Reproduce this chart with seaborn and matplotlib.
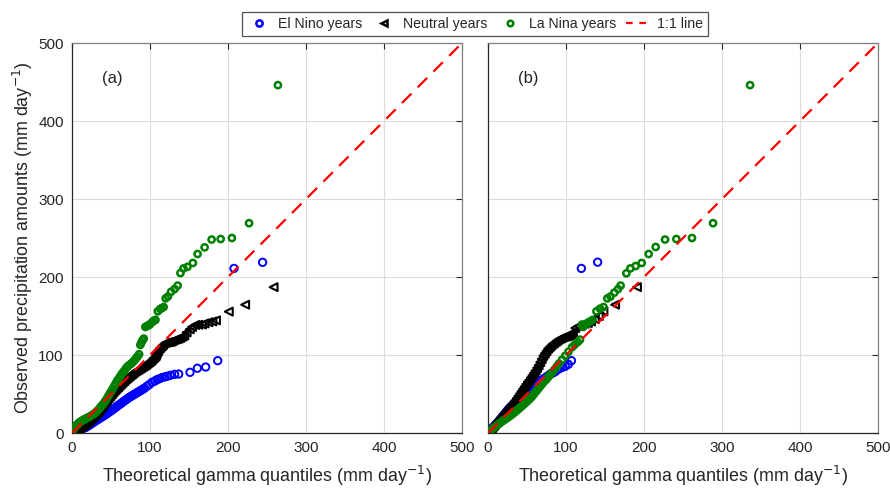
import matplotlib
matplotlib.use("Agg")
import matplotlib.pyplot as plt
from matplotlib.lines import Line2D
import seaborn as sns

# ------------------------------------------------------------------
# valori (cuantile teoretice vs observate)
# ------------------------------------------------------------------
# panou (a)
a_nino_x = [1, 3, 5, 7, 9, 11, 13, 15, 17, 19, 21, 23, 25, 27, 29, 31, 33, 35, 37, 39,
            41, 43, 45, 47, 49, 51, 53, 55, 57, 59, 61, 63, 65, 67, 69, 71, 73, 75, 77, 79,
            81, 83, 85, 87, 89, 91, 93, 96, 99, 102.6, 106, 109, 112, 115.4, 119, 121.8,
            126, 131.6, 136.8, 151.3, 160.7, 171.4, 186.8, 207.7, 244.4]
a_nino_y = [0.4, 1.2, 2, 2.8, 3.6, 4.5, 5.3, 6.2, 7, 8, 9.3, 10.6, 12, 13.3, 14.6, 16, 17.3,
            18.6, 19.8, 21, 22.3, 23.6, 25, 26.4, 27.8, 29.2, 30.7, 32, 33.6, 35.2, 36.6, 38,
            39.6, 41, 42.4, 44, 45.3, 46.6, 47.8, 49, 50.3, 51.4, 52.6, 53.8, 55, 56.3, 57.5,
            60, 62, 65, 66.5, 68.4, 69.5, 71, 72, 72.6, 74, 75.2, 75.6, 77.8, 83, 84.6, 92.7,
            211, 218.8]

a_neut_x = [1, 3, 5, 7, 9, 11, 13, 15, 17, 19, 21, 23, 25, 27, 29, 31, 33, 35, 37, 39,
            41, 43, 45, 47, 49, 51, 53, 55, 57, 59, 61, 63, 65, 67, 69, 71, 73, 75, 77, 79,
            81, 83, 85, 87, 89, 91, 93, 95, 97, 99, 101, 103, 105, 107, 108, 109, 110, 111,
            113, 115, 117, 119.7, 122, 124, 126, 128, 130, 132.5, 135, 137, 139, 141.5, 144,
            147, 151, 154, 158, 162, 166.7, 170, 175, 180, 184.6, 201, 222, 258.5]
a_neut_y = [0.6, 1.9, 3.2, 4.5, 5.8, 7.1, 8.5, 9.8, 11.1, 12.4, 14.3, 16.2, 18.2, 20.2, 22.2,
            24.2, 26.2, 28.5, 31, 33.5, 36.2, 39, 42, 44.5, 47, 49.5, 52, 54.5, 56.5, 58.5,
            60.6, 62.6, 64.6, 66.6, 68.6, 70.3, 72, 73.6, 75.2, 76.8, 78.6, 79.8, 81, 82.3,
            83.5, 84.8, 86, 87.5, 89, 90.5, 92, 94, 96, 98, 100, 102.6, 104.5, 106.5, 109, 111,
            113, 115.4, 116, 116.5, 116.7, 117.5, 118.5, 119.7, 120.5, 121.2, 122, 123.5, 125,
            129, 133, 136, 138.5, 138.8, 139, 140.5, 142, 143, 144.4, 155.6, 164.5, 187]

a_nina_x = [1, 2, 3, 4, 5, 6, 7, 8, 9, 10, 12, 14, 16, 18, 20, 22, 24, 26, 28, 30, 32, 34,
            36, 38, 40, 42, 44, 46, 48, 50, 52, 54, 56, 58, 60, 62, 64, 66, 68, 70, 72, 74,
            76, 78, 80, 82, 84, 86, 87.6, 89, 90.5, 92, 94, 96, 98, 100, 102.6, 105, 107, 110,
            113, 115, 117.5, 120, 123, 127, 131.6, 135.5, 139, 143, 148, 155, 161, 170, 179,
            190.6, 205, 227, 264]
a_nina_y = [3, 5, 6.5, 8, 9, 10, 11, 12, 13, 14, 15.3, 16.5, 17.6, 18.6, 19.6, 20.6, 21.8,
            23, 24.3, 26, 28, 30, 32.5, 35, 37, 40, 43, 46.5, 50, 53, 56.5, 60, 63.5, 67, 70,
            73, 76, 78.5, 81, 84, 86, 87.5, 89, 91, 93, 95.5, 98, 101, 113, 116, 119, 121, 136,
            137, 138, 139.5, 142, 144, 145, 156, 159, 160, 161.5, 172.6, 175, 181, 184.6, 189,
            205, 211, 213, 218, 229.5, 238, 248, 248.7, 250, 269, 446]

# panou (b)
b_nino_x = [1, 3, 5, 7, 9, 11, 13, 15, 17, 19, 21, 23, 25, 27, 30, 33, 36, 39, 42, 45, 48,
            51, 54, 57, 60, 63, 66, 69, 72, 75, 78, 80, 83, 86, 89, 92.7, 96, 99, 103, 107,
            119.7, 140.6]
b_nino_y = [1.1, 3.3, 5.5, 7.7, 9.9, 12.1, 14.3, 16.6, 19, 21.5, 24, 26.5, 29, 31.5, 34.5,
            37.5, 40.5, 43, 45.5, 48, 50.5, 53, 55.5, 58, 60.5, 63, 65.5, 68, 70, 72, 74,
            75.6, 77, 78.6, 81, 83, 84.5, 85.5, 88, 92.7, 211, 219]

b_neut_x = [1, 3, 5, 7, 9, 11, 13, 15, 17, 19, 21, 23, 25, 27, 29, 31, 33, 35, 37, 39, 41,
            43, 45, 47, 49, 51, 53, 55, 57, 59, 61, 63, 65, 67, 69, 71, 73, 75, 77, 79, 81,
            83, 85, 87, 89, 91, 93, 95, 97, 99, 101, 103, 105, 107, 109, 112, 116, 120, 124,
            128, 132, 137, 142, 148, 163, 191]
b_neut_y = [1.1, 3.4, 5.8, 8.2, 10.6, 13, 15.3, 17.6, 20, 22.4, 24.8, 27.2, 29.6, 32, 34.2,
            36.5, 38.8, 41.5, 44.5, 47.5, 50.5, 53.5, 56.5, 59.5, 62.5, 65.5, 68, 71, 74, 77,
            80, 83.5, 87, 91, 95, 99, 102, 105, 108, 110, 112, 114, 115.5, 117, 118.5, 120,
            121, 122, 123, 123.5, 124, 124.5, 125.5, 127, 129, 134.6, 137, 139, 140, 141, 143,
            146, 150, 156, 164.5, 187]

b_nina_x = [1, 3, 5, 7, 9, 11, 13, 15, 17, 19, 21, 23, 25, 27, 29, 31, 33, 35, 37, 39, 41,
            43, 45, 47, 49, 51, 53, 55, 57, 59, 61, 63, 65, 67, 69, 71, 73, 75, 77, 79, 82,
            85, 88, 91, 95, 99, 103, 107.7, 111, 115, 118, 120.5, 122, 126, 129, 131, 134,
            139, 143.6, 148, 153, 157, 162, 166.7, 170, 177.4, 182.5, 189.3, 197, 206, 215,
            227, 241.5, 261.5, 288.5, 336]
b_nina_y = [1, 2.8, 4.6, 6.3, 8, 9.6, 11.2, 12.7, 14.1, 15.5, 16.9, 18.3, 19.7, 21.1, 22.6,
            24.1, 25.7, 27.3, 29, 30.7, 32.4, 34.2, 36, 37.8, 39.6, 41.4, 43.2, 45.3, 47.5,
            50, 52.5, 55, 57.5, 60, 62.5, 65, 67, 69, 71.5, 74, 77.5, 81, 85, 89, 94, 99, 104,
            110, 113, 116.5, 119.7, 139, 136, 140, 142, 143, 145, 156, 159.4, 161.5, 172.6,
            175, 180, 184.6, 189, 204.7, 211, 214, 218, 229.5, 238.5, 248, 248.7, 250, 269,
            446]

linie_x = [0, 500]
ticks = [0, 100, 200, 300, 400, 500]
litere = ["(a)", "(b)"]

sns.set_style("white")
plt.rcParams["font.family"] = ["Liberation Sans", "DejaVu Sans"]

fig = plt.figure(figsize=(8.9, 4.9), dpi=100)
ax1 = fig.add_axes([72 / 890, 57 / 490, 390 / 890, 390 / 490])
ax2 = fig.add_axes([488 / 890, 57 / 490, 390 / 890, 390 / 490])

serii = [
    ((a_nino_x, a_nino_y), (a_neut_x, a_neut_y), (a_nina_x, a_nina_y)),
    ((b_nino_x, b_nino_y), (b_neut_x, b_neut_y), (b_nina_x, b_nina_y)),
]

for ax, (nino, neut, nina), litera in zip([ax1, ax2], serii, litere):
    sns.scatterplot(x=nino[0], y=nino[1], ax=ax, marker="o", s=28,
                    facecolor="none", edgecolor="#0000ff", linewidth=1.4, zorder=3)
    sns.scatterplot(x=neut[0], y=neut[1], ax=ax, marker="<", s=32,
                    facecolor="none", edgecolor="black", linewidth=1.5, zorder=4)
    sns.scatterplot(x=nina[0], y=nina[1], ax=ax, marker="o", s=20,
                    facecolor="none", edgecolor="#008000", linewidth=1.8, zorder=5)
    sns.lineplot(x=linie_x, y=linie_x, ax=ax, color="#ff0000", linewidth=1.6,
                 linestyle=(0, (6, 4)), zorder=6)

    ax.set_xlim(0, 500)
    ax.set_ylim(0, 500)
    ax.set_xticks(ticks)
    ax.set_yticks(ticks)
    ax.grid(True, color="#dcdcdc", linewidth=0.8, zorder=0)
    ax.set_axisbelow(True)
    ax.tick_params(direction="in", length=4, width=0.8, top=True, right=True,
                   labelsize=11, colors="#262626", pad=6)
    for nume, sp in ax.spines.items():
        sp.set_color("#262626" if nume in ("left", "bottom") else "#808080")
        sp.set_linewidth(0.9)
    ax.set_xlabel("Theoretical gamma quantiles (mm day$^{-1}$)", fontsize=12.9,
                  color="#262626", labelpad=6.5)
    ax.text(38, 455, litera, fontsize=12, color="#262626", va="center")

ax1.set_ylabel("Observed precipitation amounts (mm day$^{-1}$)", fontsize=12.9,
               color="#262626", labelpad=2)
ax2.set_yticklabels([])

handles = [
    Line2D([], [], marker="o", linestyle="none", markerfacecolor="none",
           markeredgecolor="#0000ff", markersize=4.5, markeredgewidth=1.8),
    Line2D([], [], marker="<", linestyle="none", markerfacecolor="none",
           markeredgecolor="black", markersize=4.5, markeredgewidth=1.8),
    Line2D([], [], marker="o", linestyle="none", markerfacecolor="none",
           markeredgecolor="#008000", markersize=4, markeredgewidth=1.8),
    Line2D([], [], color="#ff0000", linewidth=1.6, linestyle=(0, (3, 3))),
]
labels = ["El Nino years", "Neutral years", "La Nina years", "1:1 line"]
leg = fig.legend(handles, labels, loc="center", bbox_to_anchor=(475 / 890, 1 - 24 / 490),
                 ncol=4, frameon=True, fancybox=False, fontsize=10.2, handlelength=1.7,
                 handletextpad=0.5, columnspacing=0.7, borderpad=0.35)
leg.get_frame().set_edgecolor("#262626")
leg.get_frame().set_linewidth(0.9)

fig.savefig("out.png", dpi=100)
